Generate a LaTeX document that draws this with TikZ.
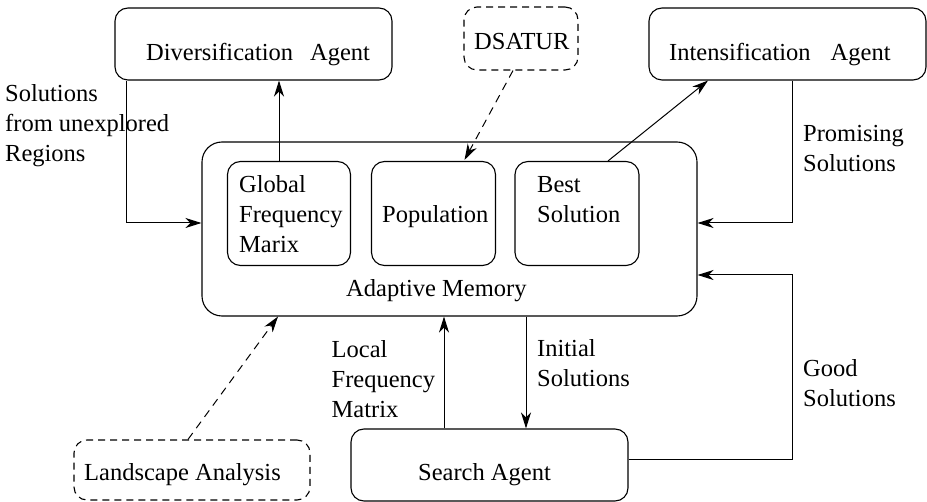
\documentclass[tikz,border=0pt]{standalone}
\usepackage{fontspec}
\setmainfont{Liberation Serif}
\usetikzlibrary{arrows.meta}
\begin{document}
\begin{tikzpicture}[x=1pt,y=-1pt,
  box/.style={draw, rounded corners=13pt, line width=1.1pt, inner sep=0pt},
  dbox/.style={box, dash pattern=on 7pt off 5pt},
  txt/.style={anchor=base west, inner sep=0pt, align=left, font=\fontsize{24.5}{30}\selectfont},
  arr/.style={line width=1pt, -{Stealth[length=16pt,width=10pt,inset=5pt]}},
  darr/.style={arr, dash pattern=on 8pt off 6pt}]
\useasboundingbox (0,0) rectangle (927,502);
% boxes
\node[box, minimum width=277pt, minimum height=72pt] (div) at (253.5,44) {};
\node[dbox, minimum width=114pt, minimum height=63pt] (dsat) at (521,38.5) {};
\node[box, minimum width=277pt, minimum height=72pt] (int) at (787.5,44) {};
\node[box, rounded corners=20pt, minimum width=495pt, minimum height=174pt] (am) at (449.5,229) {};
\node[box, minimum width=123pt, minimum height=104pt] (glob) at (289,213.5) {};
\node[box, minimum width=124pt, minimum height=104pt] (pop) at (433.5,213.5) {};
\node[box, minimum width=124pt, minimum height=104pt] (best) at (577,213.5) {};
\node[box, minimum width=277pt, minimum height=72pt] (search) at (489.5,465) {};
\node[dbox, minimum width=236pt, minimum height=60pt] (land) at (192,470) {};
% texts (base anchor = baseline of the last line)
\node[txt] (divt) at (146,61) {Diversification\hspace{17pt}Agent};
\node[txt] (dst) at (474,50) {DSATUR};
\node[txt] (intt) at (669,61) {Intensification\hspace{20pt}Agent};
\node[txt] (solt) at (5,161.7) {Solutions\\from unexplored\\Regions};
\node[txt] (promt) at (803,171.7) {Promising\\Solutions};
\node[txt] (globt) at (239,253) {Global\\Frequency\\Marix};
\node[txt] (popt) at (382,223) {Population};
\node[txt] (bestt) at (537,223) {Best\\Solution};
\node[txt] (amt) at (346,297) {Adaptive Memory};
\node[txt] (loct) at (331.5,418) {Local\\Frequency\\Matrix};
\node[txt] (initt) at (537,387) {Initial\\Solutions};
\node[txt] (goodt) at (803,407) {Good\\Solutions};
\node[txt] (landt) at (84,481) {Landscape Analysis};
\node[txt] (searcht) at (418,481) {Search Agent};
% connectors
\coordinate (c1) at (126,223);
\coordinate (c2) at (792,223);
\coordinate (c3) at (792,275);
\draw[arr] (glob.north -| 279,0) -- (div.south -| 279,0);
\draw[arr] (div.south -| c1) -- (c1) -- (am.west |- c1);
\draw[darr] ([xshift=-8pt]dsat.south) -- ([xshift=31pt,yshift=1pt]pop.north);
\draw[arr] (best.north -| 608,0) -- (int.south -| 708,0);
\draw[arr] (int.south -| c2) -- (c2) -- (am.east |- c2);
\draw[arr] (search.east |- 0,460) -| (c3) -- (am.east |- c3);
\draw[arr] (search.north -| 444,0) -- (am.south -| 444,0);
\draw[arr] (am.south -| 526,0) -- (search.north -| 526,0);
\draw[darr] (land.north -| 188,0) -- (am.south -| 278,0);
\end{tikzpicture}
\end{document}
